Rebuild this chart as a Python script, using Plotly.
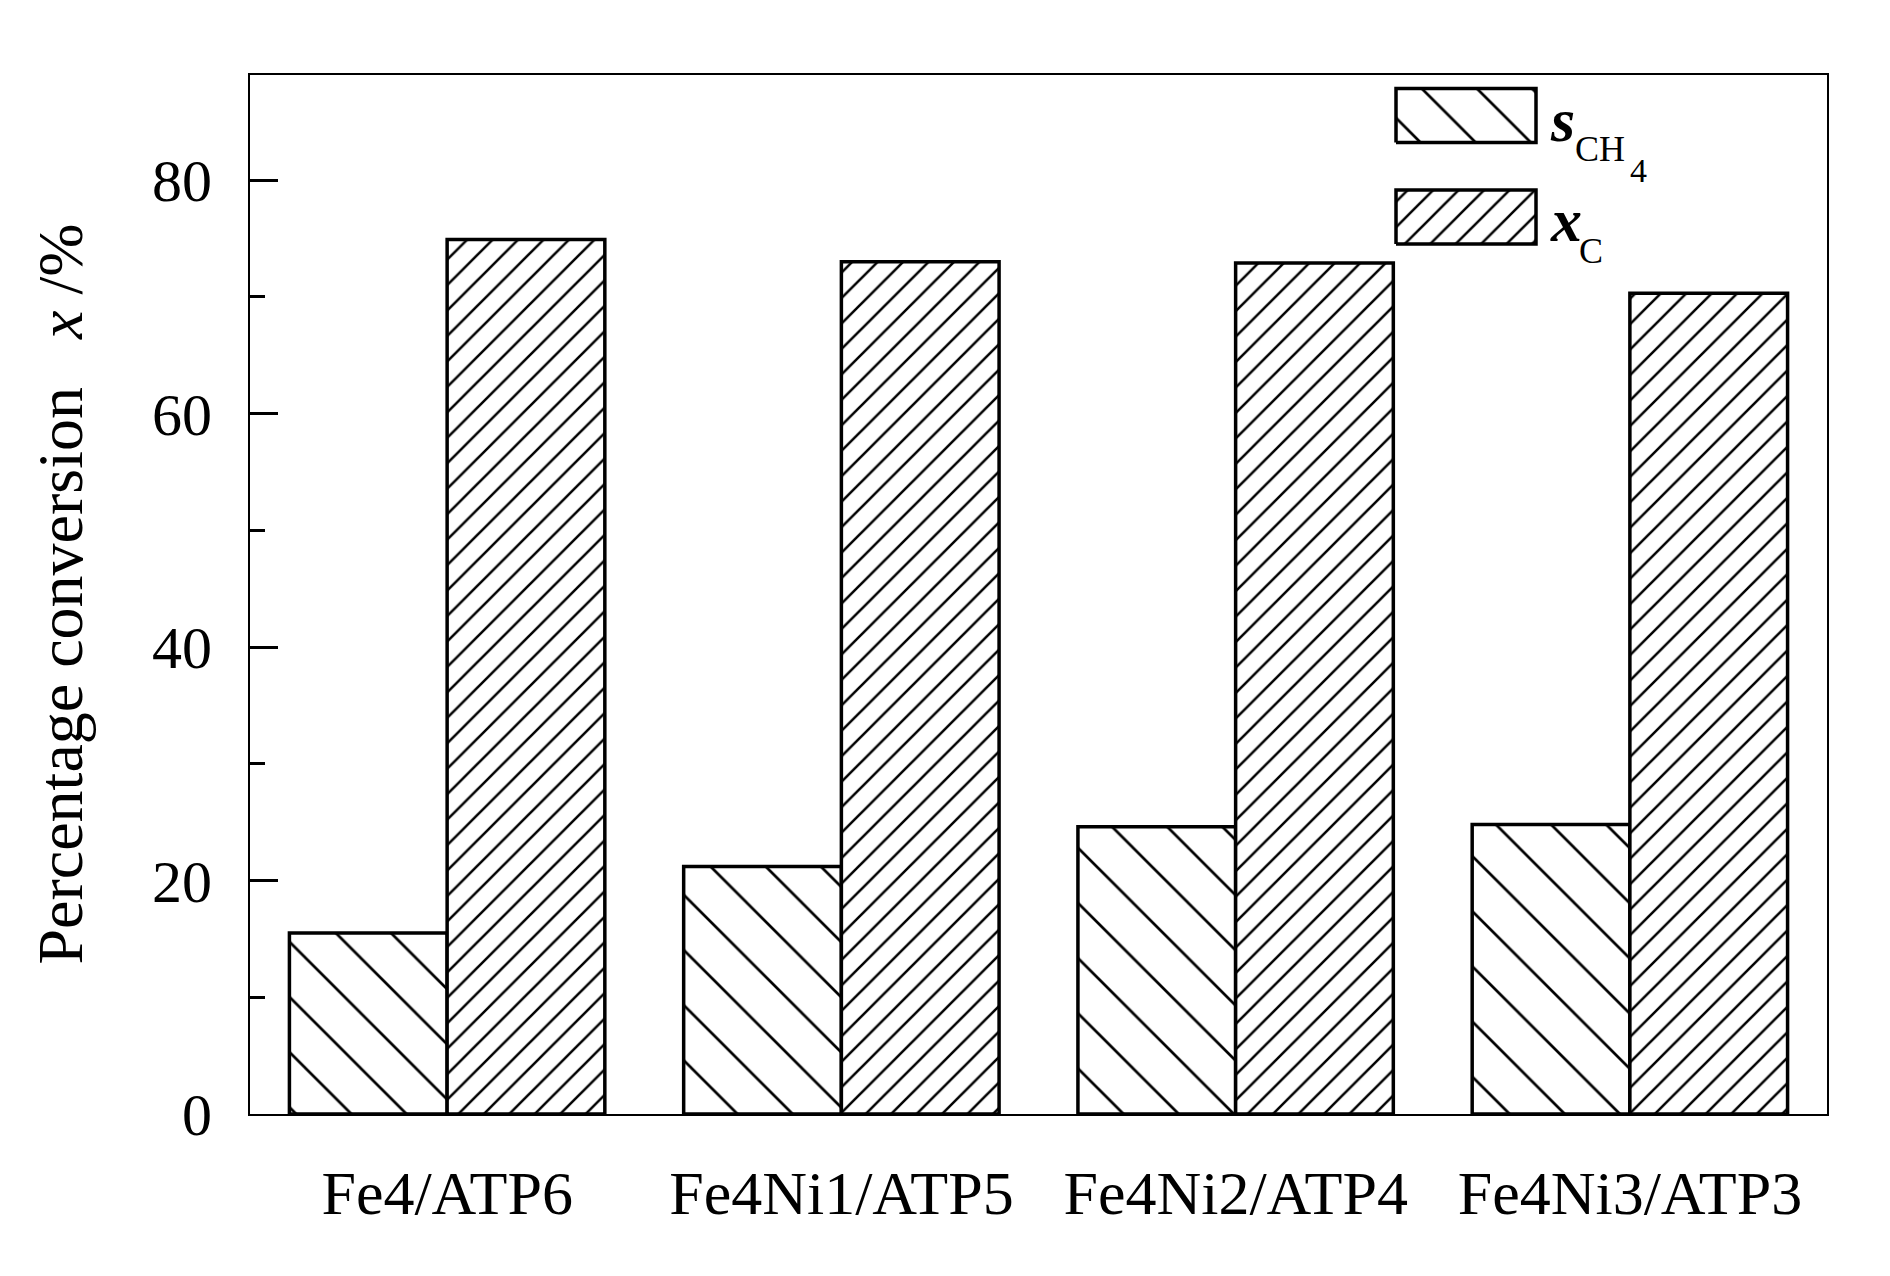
import plotly.graph_objects as go

# catalyst samples and measured values (%)
categories = ["Fe4/ATP6", "Fe4Ni1/ATP5", "Fe4Ni2/ATP4", "Fe4Ni3/ATP3"]
s_ch4 = [15.5, 21.2, 24.6, 24.8]
x_c = [74.9, 73.0, 72.9, 70.3]

y_ticks = [0, 20, 40, 60, 80]

FONT = "Liberation Serif, Times New Roman, serif"
OFF = 8  # page body margin
W, H = 1890 - OFF, 1276 - OFF
L, R, T, B = 250 - OFF, 63, 75 - OFF, 162
PW, PH = W - L - R, H - T - B

S_PAT = dict(shape="\\", size=39, solidity=0.07, fgcolor="black", fgopacity=1, bgcolor="white")
X_PAT = dict(shape="/", size=18, solidity=0.14, fgcolor="black", fgopacity=1, bgcolor="white")


def px(x):
    # screen pixel -> overlay axis units (left of plot area = 0)
    return x - OFF - L


def py(y):
    return (H - B) - (y - OFF)


fig = go.Figure()

fig.add_trace(go.Bar(
    x=categories, y=s_ch4, name="s",
    marker=dict(color="white", line=dict(color="black", width=3.5), pattern=S_PAT),
    showlegend=False,
))
fig.add_trace(go.Bar(
    x=categories, y=x_c, name="x",
    marker=dict(color="white", line=dict(color="black", width=3.5), pattern=X_PAT),
    showlegend=False,
))

# hand-made legend boxes on an overlay axis measured in pixels
legend_boxes = [(S_PAT, 88.5, 142.5), (X_PAT, 190, 244)]
for pat, top, bot in legend_boxes:
    x0, x1 = px(1396), px(1536)
    y0, y1 = py(bot), py(top)
    fig.add_trace(go.Scatter(
        x=[x0, x1, x1, x0, x0], y=[y0, y0, y1, y1, y0],
        xaxis="x2", yaxis="y2", mode="lines", fill="toself",
        fillcolor="white", line=dict(color="black", width=3.5),
        fillpattern=pat, showlegend=False, hoverinfo="skip",
    ))

fig.update_layout(
    width=W, height=H,
    margin=dict(l=L, r=R, t=T, b=B),
    paper_bgcolor="white", plot_bgcolor="white",
    barmode="group", bargap=0.2, bargroupgap=0,
    font=dict(family=FONT, color="black", size=60),
    xaxis=dict(
        type="category", range=[-0.5, 3.5],
        showline=True, linecolor="black", linewidth=2, mirror=True,
        ticks="", showgrid=False, zeroline=False,
        tickfont=dict(family=FONT, size=62), ticklabelstandoff=24,
    ),
    yaxis=dict(
        range=[0, 89], tickvals=y_ticks,
        showline=True, linecolor="black", linewidth=2, mirror=True,
        ticks="inside", ticklen=28, tickwidth=3, tickcolor="black",
        minor=dict(ticks="inside", ticklen=15, tickwidth=3, dtick=10, tickcolor="black"),
        showgrid=False, zeroline=False,
        tickfont=dict(family=FONT, size=60), ticklabelstandoff=24,
    ),
    xaxis2=dict(overlaying="x", range=[0, PW], visible=False, fixedrange=True),
    yaxis2=dict(overlaying="y", range=[0, PH], visible=False, fixedrange=True),
)

# y-axis title
fig.add_annotation(
    text="Percentage conversion&nbsp;&nbsp;&nbsp;<i>x</i> /%",
    xref="paper", yref="paper", x=(60 - OFF - L) / PW, y=0.5,
    xanchor="center", yanchor="middle", textangle=-90, showarrow=False,
    font=dict(family=FONT, size=64),
)

# legend labels
legend_text = [
    ("<b><i>s</i></b>", 1549, 141, 62),
    ("CH", 1574, 162, 36),
    ("4", 1629, 183, 34),
    ("<b><i>x</i></b>", 1549, 241, 62),
    ("C", 1578, 264, 36),
]
for txt, x, base, size in legend_text:
    fig.add_annotation(
        text=txt, xref="x2", yref="y2", x=px(x), y=py(base) - 0.22 * size,
        xanchor="left", yanchor="bottom", showarrow=False,
        font=dict(family=FONT, size=size), borderpad=0,
    )

fig.write_html("out.html")
